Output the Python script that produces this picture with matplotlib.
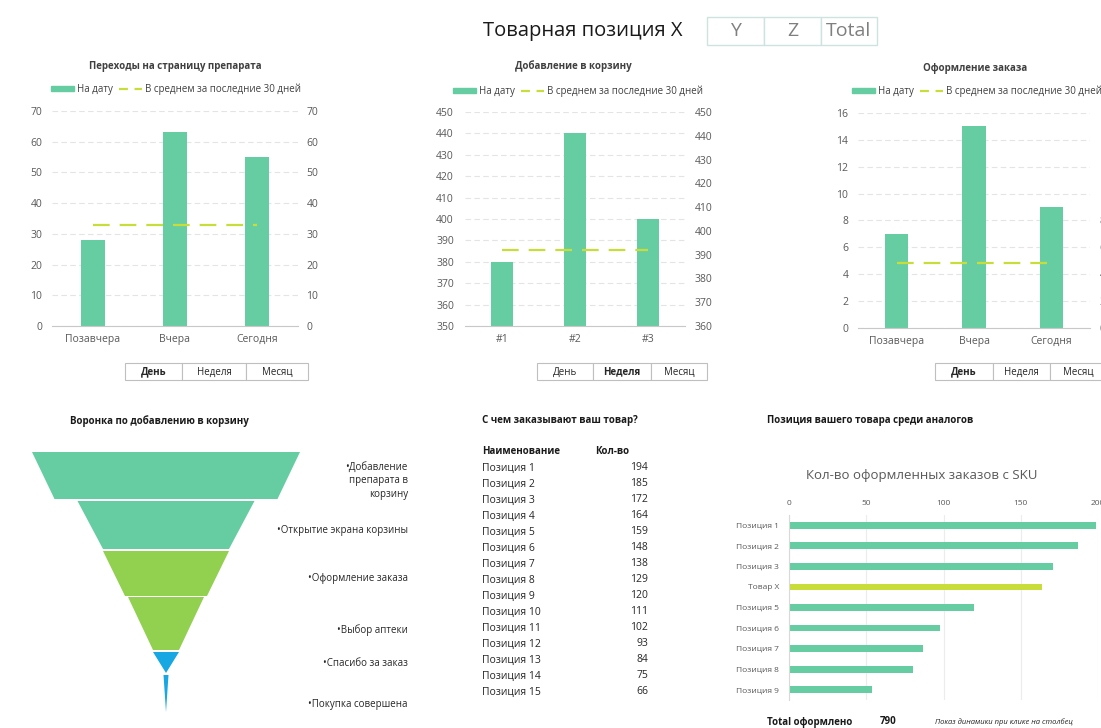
import matplotlib
matplotlib.use('Agg')
import matplotlib.pyplot as plt
from matplotlib.patches import Rectangle, Polygon, Patch
from matplotlib.lines import Line2D

plt.rcParams['font.family'] = ['Open Sans', 'DejaVu Sans']

W, H = 1101, 728

# ---------------- data ----------------
c1_title = 'Переходы на страницу препарата'
c1_cats = ['Позавчера', 'Вчера', 'Сегодня']
c1_vals = [28, 63, 55]
c1_avg = 33

c2_title = 'Добавление в корзину'
c2_cats = ['#1', '#2', '#3']
c2_vals = [380, 440, 400]
c2_avg = 392

c3_title = 'Оформление заказа'
c3_cats = ['Позавчера', 'Вчера', 'Сегодня']
c3_vals = [7, 15, 9]
c3_avg = 4.8

legend_labels = ['На дату', 'В среднем за последние 30 дней']
period_buttons = ['День', 'Неделя', 'Месяц']

funnel_title = 'Воронка по добавлению в корзину'
funnel_stages = ['•Добавление\nпрепарата в\nкорзину', '•Открытие экрана корзины',
                 '•Оформление заказа', '•Выбор аптеки', '•Спасибо за заказ',
                 '•Покупка совершена']
funnel_top = [268, 177, 126, 76, 26, 5]
funnel_bottom = [223, 126, 82, 26, 0, 0]

table_title = 'С чем заказывают ваш товар?'
table_header = ['Наименование', 'Кол-во']
table_names = ['Позиция %d' % i for i in range(1, 16)]
table_values = [194, 185, 172, 164, 159, 148, 138, 129, 120, 111, 102, 93, 84, 75, 66]

sku_section_title = 'Позиция вашего товара среди аналогов'
sku_title = 'Кол-во оформленных заказов с SKU'
sku_names = ['Позиция 1', 'Позиция 2', 'Позиция 3', 'Товар X', 'Позиция 5',
             'Позиция 6', 'Позиция 7', 'Позиция 8', 'Позиция 9']
sku_values = [199, 187, 171, 164, 120, 98, 87, 80, 54]
sku_highlight = 'Товар X'
total_label = 'Total оформлено'
total_value = 790
hint_text = 'Показ динамики при клике на столбец'

header_title = 'Товарная позиция X'
header_tabs = ['Y', 'Z', 'Total']

# ---------------- style ----------------
MINT = '#66CDA3'
LIME = '#C8DC3A'
TXT = '#404040'
TICK = '#595959'
GRID = '#e4e4e4'
DASH = (0, (7.5, 4.5))

fig = plt.figure(figsize=(W / 100, H / 100), dpi=100)
fig.patch.set_facecolor('white')


def prect(x0, y0, x1, y1):
    return [x0 / W, 1 - y1 / H, (x1 - x0) / W, (y1 - y0) / H]


def fxy(x, y):
    return x / W, 1 - y / H


ov = fig.add_axes([0, 0, 1, 1], zorder=0)
ov.set_xlim(0, W)
ov.set_ylim(H, 0)
ov.axis('off')


def bar_chart(rect, cats, vals, avg, lim, ticks, rlim, rticks, title, tpos, lpos,
              btn_x, sel, lpad, rpad):
    ax = fig.add_axes(prect(*rect), zorder=2)
    ax.set_facecolor('none')
    x = list(range(len(cats)))
    ax.bar(x, vals, width=0.3, color=MINT, zorder=2)
    ax.set_xlim(-0.5, len(cats) - 0.5)
    ax.set_ylim(*lim)
    ax.set_yticks(ticks)
    ax.set_xticks(x)
    ax.set_xticklabels(cats)
    ax.yaxis.grid(True, color=GRID, lw=0.8, ls=(0, (5, 3)))
    ax.set_axisbelow(True)
    for s in ['top', 'left', 'right']:
        ax.spines[s].set_visible(False)
    ax.spines['bottom'].set_color('#c8c8c8')
    ax.tick_params(axis='y', length=0, labelsize=7.5, colors=TICK, pad=lpad)
    ax.tick_params(axis='x', length=0, labelsize=7.5, colors=TICK, pad=6)
    ax2 = ax.twinx()
    ax2.set_ylim(*rlim)
    ax2.set_yticks(rticks)
    ax2.plot([x[0], x[-1]], [avg, avg], color=LIME, lw=1.6, ls=DASH, zorder=3)
    for s in ['top', 'left', 'right', 'bottom']:
        ax2.spines[s].set_visible(False)
    ax2.tick_params(axis='y', length=0, labelsize=7.5, colors=TICK, pad=rpad)
    fig.text(*fxy(*tpos), title, ha='center', va='center', fontsize=7,
             fontweight='bold', color=TXT)
    handles = [Patch(color=MINT), Line2D([], [], color=LIME, lw=1.6, ls=(0, (4, 3)))]
    ax.legend(handles, legend_labels, loc='center', bbox_to_anchor=fxy(*lpos),
              bbox_transform=fig.transFigure, ncol=2, frameon=False, fontsize=7,
              handlelength=2.4, handleheight=0.5, columnspacing=0.6,
              handletextpad=0.3, labelcolor=TXT)
    # period buttons
    for i, b in enumerate(period_buttons):
        x0, x1 = btn_x[i], btn_x[i + 1]
        ov.add_patch(Rectangle((x0, 363), x1 - x0, 17, fc='white', ec='#bfbfbf', lw=0.8))
        ov.text((x0 + x1) / 2, 372, b, ha='center', va='center', fontsize=7,
                color='#262626', fontweight='bold' if b == sel else 'normal')
    return ax


bar_chart((52, 111, 298, 326), c1_cats, c1_vals, c1_avg, (0, 70), range(0, 71, 10),
          (0, 70), range(0, 71, 10), c1_title, (175, 66), (176, 89),
          [125, 182, 246, 308], 'День', 7, 6)
bar_chart((465, 112, 685, 326), c2_cats, c2_vals, c2_avg, (350, 450), range(350, 451, 10),
          (360, 450), range(360, 451, 10), c2_title, (573, 66), (578, 91),
          [537, 593, 651, 707], 'Неделя', 8, 7)
bar_chart((858, 113, 1090, 328), c3_cats, c3_vals, c3_avg, (0, 16), range(0, 17, 2),
          (0, 16), range(0, 17, 2), c3_title, (975, 68), (977, 91),
          [935, 993, 1050, 1107], 'День', 7, 7)

# ---------------- header ----------------
ov.text(483, 31, header_title, ha='left', va='center', fontsize=14.5, color='#1a1a1a')
tab_x = [707, 764, 821, 877]
for i, t in enumerate(header_tabs):
    ov.add_patch(Rectangle((tab_x[i], 17), tab_x[i + 1] - tab_x[i], 28, fc='white',
                           ec='#cde3df', lw=1))
    ov.text((tab_x[i] + tab_x[i + 1]) / 2, 31, t, ha='center', va='center',
            fontsize=14, color='#7f7f7f')

# ---------------- funnel ----------------
ov.text(70, 421, funnel_title, ha='left', va='center', fontsize=7, fontweight='bold',
        color='#1a1a1a')
funnel_y = [(452, 499), (501, 549), (551, 596), (597, 650), (652, 673), (675, 712)]
funnel_colors = [MINT, MINT, '#92D050', '#92D050', '#17A7E3', '#17A7E3']
label_y = [481, 531, 579, 630, 663, 704]
cx = 166
for i in range(len(funnel_stages)):
    y0, y1 = funnel_y[i]
    tw, bw = funnel_top[i] / 2, funnel_bottom[i] / 2
    ov.add_patch(Polygon([(cx - tw, y0), (cx + tw, y0), (cx + bw, y1), (cx - bw, y1)],
                         closed=True, fc=funnel_colors[i], ec='none'))
    ov.text(408, label_y[i], funnel_stages[i], ha='right', va='center',
            multialignment='right', fontsize=7, color='#262626', linespacing=1.3)

# ---------------- table ----------------
ov.text(482, 421, table_title, ha='left', va='center', fontsize=7, fontweight='bold',
        color='#1a1a1a')
ov.text(482, 452, table_header[0], ha='left', va='center', fontsize=7,
        fontweight='bold', color='#1a1a1a')
ov.text(595, 452, table_header[1], ha='left', va='center', fontsize=7,
        fontweight='bold', color='#1a1a1a')
for i, (n, v) in enumerate(zip(table_names, table_values)):
    y = 468 + i * 16.0
    ov.text(482, y, n, ha='left', va='center', fontsize=7.5, color='#262626')
    ov.text(648, y, str(v), ha='right', va='center', fontsize=7.5, color='#262626')

# ---------------- SKU bar chart ----------------
ov.text(767, 421, sku_section_title, ha='left', va='center', fontsize=7,
        fontweight='bold', color='#1a1a1a')
ov.text(922, 476, sku_title, ha='center', va='center', fontsize=9.5, color=TICK)
axs = fig.add_axes(prect(789, 515, 1098, 700), zorder=2)
axs.set_facecolor('none')
ypos = list(range(len(sku_names)))
cols = [LIME if n == sku_highlight else MINT for n in sku_names]
axs.barh(ypos, sku_values, height=0.33, color=cols, zorder=2)
axs.set_ylim(len(sku_names) - 0.5, -0.5)
axs.set_xlim(0, 200)
axs.set_xticks([0, 50, 100, 150, 200])
axs.set_yticks(ypos)
axs.set_yticklabels(sku_names)
axs.xaxis.tick_top()
axs.xaxis.grid(True, color='#ececec', lw=0.8)
axs.set_axisbelow(True)
for s in ['top', 'right', 'bottom']:
    axs.spines[s].set_visible(False)
axs.spines['left'].set_color('#d9d9d9')
axs.tick_params(axis='x', length=0, labelsize=6, colors=TICK, pad=6)
axs.tick_params(axis='y', length=0, labelsize=6, colors=TICK, pad=7)

ov.text(767, 722, total_label, ha='left', va='center', fontsize=7, fontweight='bold',
        color='#1a1a1a')
ov.text(880, 722, str(total_value), ha='left', va='center', fontsize=7,
        fontweight='bold', color='#1a1a1a')
ov.text(935, 722, hint_text, ha='left', va='center', fontsize=5.5, style='italic',
        color='#262626')

fig.savefig('out.png', dpi=100)
